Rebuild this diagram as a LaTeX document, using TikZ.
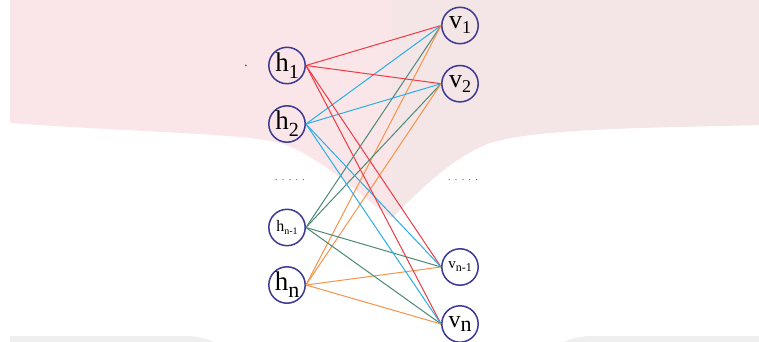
\documentclass[tikz,border=0pt]{standalone}
\usepackage{fontspec}
\setmainfont{Liberation Serif}
\definecolor{pinkL}{HTML}{FAE6E8}
\definecolor{pinkR}{HTML}{F4E5E7}
\definecolor{grayband}{HTML}{EFEFEF}
\definecolor{nodeblue}{HTML}{3C3A94}
\definecolor{ered}{HTML}{EE3A45}
\definecolor{ecyan}{HTML}{29AEE6}
\definecolor{egreen}{HTML}{4C8A78}
\definecolor{eorange}{HTML}{F7934A}
\definecolor{dotgray}{HTML}{555555}
\newcommand{\nodelabel}[5]{{\fontsize{#3}{#3}\selectfont #1}\raisebox{-#5}{\fontsize{#4}{#4}\selectfont #2}}
\newcommand{\fivedots}{{\fontsize{10pt}{10pt}\selectfont .\kern4.3pt.\kern4.3pt.\kern4.3pt.\kern4.3pt.}}
\tikzset{
  unit/.style={circle,draw=nodeblue,line width=1.5pt,minimum size=36.4pt,inner sep=0pt},
  edge/.style={line width=1pt},
  dots/.style={text=dotgray,inner sep=0pt}
}
\begin{document}
\begin{tikzpicture}[x=1pt,y=-1pt]
\useasboundingbox (0,0) rectangle (759,342);
\fill[white] (0,0) rectangle (759,342);
% background shapes
\fill[pinkL] (10,0) -- (392,0) -- (392,218)
  .. controls (365,200) and (320,155) .. (280,143)
  .. controls (240,133) and (150,133) .. (10,123) -- cycle;
\fill[pinkR] (392,0) -- (759,0) -- (759,125)
  .. controls (650,128) and (540,128) .. (490,143)
  .. controls (450,158) and (415,195) .. (392,218) -- cycle;
\fill[grayband] (10,342) -- (10,336) -- (185,336)
  .. controls (198,336) and (208,339) .. (214,342) -- cycle;
\fill[grayband] (759,342) -- (759,336) -- (592,336)
  .. controls (580,336) and (570,339) .. (564,342) -- cycle;
% nodes
\node[unit] (h1) at (287,65.5) {\nodelabel{h}{1}{27pt}{20pt}{7pt}};
\node[unit] (h2) at (287,124) {\nodelabel{h}{2}{27pt}{20pt}{7pt}};
\node[unit] (hn1) at (287,227.5) {\nodelabel{h}{n-1}{16pt}{10pt}{3pt}};
\node[unit] (hn) at (287,285) {\nodelabel{h}{n}{27pt}{22pt}{7pt}};
\node[unit] (v1) at (460,25.5) {\nodelabel{v}{1}{26pt}{18pt}{5pt}};
\node[unit] (v2) at (460,83.7) {\nodelabel{v}{2}{26pt}{18pt}{5pt}};
\node[unit] (vn1) at (460,267) {\nodelabel{v}{n-1}{15pt}{12pt}{3pt}};
\node[unit] (vn) at (460,324) {\nodelabel{v}{n}{24pt}{22pt}{4pt}};
\node[dots] (ldots) at (290,180) {\fivedots};
\node[dots] (rdots) at (463,180) {\fivedots};
\node[text=black!85,inner sep=0pt] (stray) at (246,66) {\fontsize{13pt}{13pt}\selectfont .};
% edges
\foreach \v in {v1,v2,vn1,vn} {
  \draw[edge,ered] (h1.east) -- (\v.west);
  \draw[edge,ecyan] (h2.east) -- (\v.west);
  \draw[edge,egreen] (hn1.east) -- (\v.west);
  \draw[edge,eorange] (hn.east) -- (\v.west);
}
\end{tikzpicture}
\end{document}
